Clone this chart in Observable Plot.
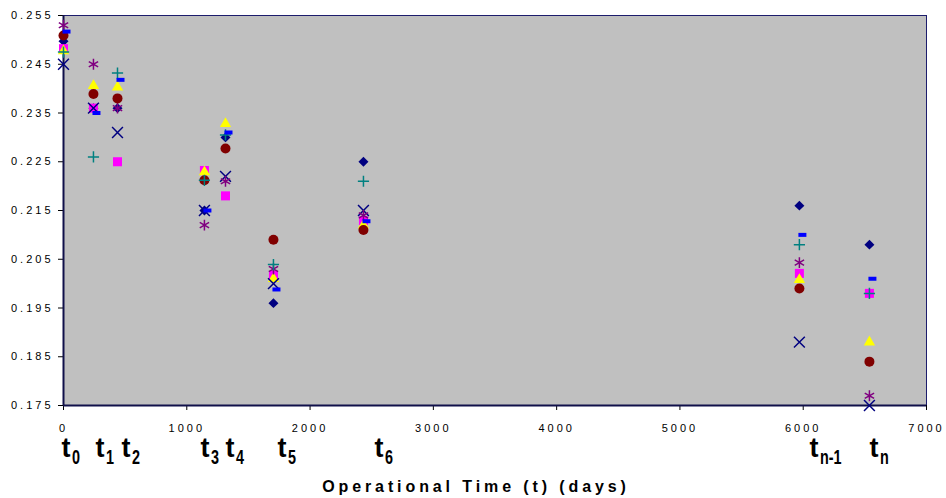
<!DOCTYPE html>
<html>
<head>
<meta charset="utf-8">
<script src="https://cdn.jsdelivr.net/npm/d3@7"></script>
<script src="https://cdn.jsdelivr.net/npm/@observablehq/plot@0.6"></script>
<style>
  html, body { margin: 0; padding: 0; background: #fff; }
</style>
</head>
<body>
<div id="chart"></div>
<script>
// Operational times (days) of each measurement
const times = [0, 243, 438, 1143, 1314, 1703, 2433, 5969, 6537];

// Series values (one value per time point)
const diamondSeries  = [0.2497, 0.2360, 0.2360, 0.2150, 0.2300, 0.1960, 0.2250, 0.2160, 0.2080];
const squareSeries   = [0.2482, 0.2360, 0.2250, 0.2232, 0.2180, 0.2017, 0.2129, 0.2021, 0.1980];
const triangleSeries = [0.2477, 0.2406, 0.2403, 0.2229, 0.2328, 0.2010, 0.2120, 0.2008, 0.1880];
const timesSeries    = [0.2450, 0.2360, 0.2310, 0.2150, 0.2220, 0.2000, 0.2150, 0.1880, 0.1750];
const asteriskSeries = [0.2530, 0.2450, 0.2360, 0.2120, 0.2210, 0.2030, 0.2140, 0.2043, 0.1770];
const circleSeries   = [0.2509, 0.2389, 0.2380, 0.2212, 0.2277, 0.2090, 0.2110, 0.1990, 0.1840];
const plusSeries     = [0.2475, 0.2260, 0.2432, 0.2212, 0.2305, 0.2039, 0.2210, 0.2080, 0.1980];
const dashSeries     = [0.2517, 0.2350, 0.2418, 0.2150, 0.2310, 0.1988, 0.2128, 0.2100, 0.2010];

// Axis ticks
const yTicks = [0.175, 0.185, 0.195, 0.205, 0.215, 0.225, 0.235, 0.245, 0.255];
const xTicks = [0, 1000, 2000, 3000, 4000, 5000, 6000, 7000];

// Time-point labels (t with subscript) and where they sit along the axis (days)
const tMain = ["t", "t", "t", "t", "t", "t", "t", "t", "t"];
const tSubs = ["0", "1", "2", "3", "4", "5", "6", "n-1", "n"];
const tLabelPos = [-16, 260, 470, 1111, 1314, 1736, 2523, 6051, 6538];

const xTitle = "Operational Time (t) (days)";

const pts = (vals) => times.map((t, i) => ({t, v: vals[i]}));
const tLabels = tSubs.map((s, i) => ({x: tLabelPos[i], main: tMain[i], sub: s}));

const dashSymbol = {
  draw(context) {
    context.moveTo(-1, -2);
    context.lineTo(7, -2);
    context.lineTo(7, 2);
    context.lineTo(-1, 2);
    context.closePath();
  }
};

const chart = Plot.plot({
  width: 946,
  height: 498,
  marginLeft: 63,
  marginRight: 20,
  marginTop: 15,
  marginBottom: 93,
  style: {fontFamily: "'Liberation Sans', Arial, sans-serif", background: "#ffffff", overflow: "visible"},
  x: {domain: [0, 7000]},
  y: {domain: [0.175, 0.255]},
  marks: [
    Plot.frame({fill: "#c0c0c0", stroke: "#1c1c6c", strokeWidth: 1}),
    Plot.axisY({ticks: yTicks, tickFormat: d3.format(".3f"), tickSize: 5, tickPadding: 5, fontSize: 11, label: null, stroke: "#000"}),
    Plot.axisX({ticks: xTicks, tickFormat: d => String(d), tickSize: 5, tickPadding: 14, fontSize: 11, label: null, stroke: "#000"}),
    Plot.ruleX([0], {stroke: "#10104a", strokeWidth: 2}),
    Plot.ruleY([0.175], {stroke: "#10104a", strokeWidth: 2}),

    Plot.dot(pts(diamondSeries),  {x: "t", y: "v", symbol: "diamond2", r: 4.5, fill: "#000080", stroke: "none"}),
    Plot.dot(pts(squareSeries),   {x: "t", y: "v", symbol: "square", r: 5.1, fill: "#ff00ff", stroke: "none"}),
    Plot.dot(pts(triangleSeries), {x: "t", y: "v", symbol: "triangle", r: 4.2, fill: "#ffff00", stroke: "none"}),
    Plot.dot(pts(timesSeries),    {x: "t", y: "v", symbol: "times", r: 5.0, fill: "none", stroke: "#000080", strokeWidth: 1.5}),
    Plot.dot(pts(asteriskSeries), {x: "t", y: "v", symbol: "asterisk", r: 5.1, fill: "none", stroke: "#800080", strokeWidth: 1.5}),
    Plot.dot(pts(circleSeries),   {x: "t", y: "v", symbol: "circle", r: 5, fill: "#800000", stroke: "none"}),
    Plot.dot(pts(plusSeries),     {x: "t", y: "v", symbol: "plus", r: 3.7, fill: "none", stroke: "#008080", strokeWidth: 1.5}),
    Plot.dot(pts(dashSeries),     {x: "t", y: "v", symbol: dashSymbol, r: 4, fill: "#0000ff", stroke: "none"}),

    Plot.text(tLabels, {x: "x", frameAnchor: "bottom", text: "main", dy: 51, lineAnchor: "bottom", textAnchor: "start",
      fontSize: 27, fontWeight: "bold", fill: "#000"}),
    Plot.text(tLabels, {x: "x", frameAnchor: "bottom", text: "sub", dx: 10.5, dy: 58, lineAnchor: "bottom", textAnchor: "start",
      fontSize: 20, fontWeight: "bold", fill: "#000"}),
    Plot.text([xTitle], {x: 3500, frameAnchor: "bottom", text: d => d, dx: -19, dy: 86, lineAnchor: "bottom",
      fontSize: 16, fontWeight: "bold", fill: "#000"})
  ]
});

document.getElementById("chart").appendChild(chart);

// Styling touches: letter spacing on tick labels/title, narrow subscripts
const svg = d3.select(chart);
svg.selectAll('g[aria-label="y-axis tick label"] text').style("letter-spacing", "3px");
svg.selectAll('g[aria-label="x-axis tick label"] text').style("letter-spacing", "3px");
const textGroups = svg.selectAll('g[aria-label="text"]').nodes();
if (textGroups[2]) d3.select(textGroups[2]).selectAll("text").style("letter-spacing", "3.9px");
if (textGroups[1]) {
  d3.select(textGroups[1]).selectAll("text").each(function () {
    const t = this.getAttribute("transform");
    if (t) this.setAttribute("transform", t + " scale(0.72,1)");
    else {
      const x = +this.getAttribute("x") || 0, y = +this.getAttribute("y") || 0;
      this.setAttribute("transform", `translate(${x},${y}) scale(0.72,1) translate(${-x},${-y})`);
    }
  });
}
</script>
</body>
</html>
